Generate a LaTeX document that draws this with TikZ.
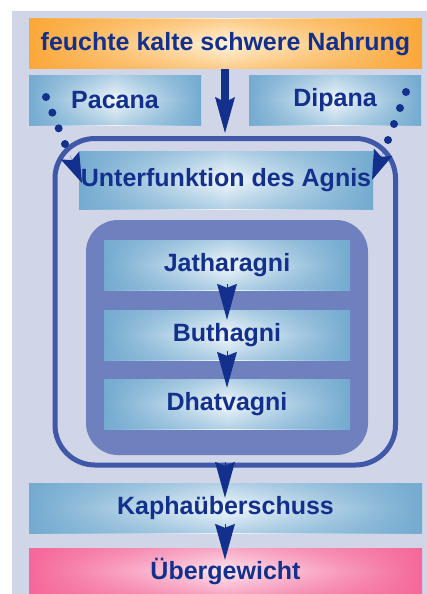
\documentclass[tikz,border=0pt]{standalone}
\usepackage{fontspec}
\setmainfont{Liberation Sans}
\usetikzlibrary{arrows.meta,fadings,calc}
\definecolor{bgc}{HTML}{D0D5E8}
\definecolor{outerc}{HTML}{3F58A8}
\definecolor{innerc}{HTML}{6E80BD}
\definecolor{boxb}{HTML}{74ABD0}
\definecolor{boxw}{HTML}{F2F8FC}
\definecolor{orng}{HTML}{FBA83A}
\definecolor{orngw}{HTML}{FFF3DC}
\definecolor{pnk}{HTML}{F5689A}
\definecolor{pnkw}{HTML}{FDE8F0}
\definecolor{txtc}{HTML}{12308C}
\tikzfading[name=vedge, top color=transparent!50, bottom color=transparent!50, middle color=transparent!100]
\begin{document}
\begin{tikzpicture}[x=1pt,y=-1pt,
  glow/.style 2 args={left color=#1, right color=#1, middle color=#2,
    path picture={\fill[#1, path fading=vedge] (path picture bounding box.south west) rectangle (path picture bounding box.north east);}},
  lbl/.style={text=txtc, font=\fontsize{25}{28}\selectfont\bfseries, inner sep=0pt, anchor=center},
  bluebox/.style={lbl, glow={boxb}{boxw}},
  orangebox/.style={lbl, glow={orng}{orngw}},
  pinkbox/.style={lbl, glow={pnk}{pnkw}},
  bigarrow/.style={draw=txtc, line width=8pt, -{Stealth[length=36pt, width=20pt, inset=5pt, line width=0pt]}},
  headonly/.style={draw=txtc, line width=0.1pt, -{Stealth[length=36pt, width=20pt, inset=4pt, line width=0pt]}},
  dothead/.style={draw=txtc, line width=0.1pt, -{Stealth[length=30pt, width=20pt, inset=5pt, line width=0pt]}},
  dotc/.style={fill=txtc}
]
\useasboundingbox (0,0) rectangle (427,594);
\fill[bgc] (12,11) rectangle (427,594);

% containers
\node[draw=outerc, line width=5pt, rounded corners=40pt, minimum width=340.5pt, minimum height=326.5pt, inner sep=0pt] (outer) at (225.25,301.75) {};
\node[fill=innerc, rounded corners=32pt, minimum width=282pt, minimum height=235pt, inner sep=0pt] (inner) at (227,337.5) {};

% boxes
\node[orangebox, minimum width=393pt, minimum height=50pt] (food) at (225.5,44) {feuchte kalte schwere Nahrung};
\node[bluebox, minimum width=172pt, minimum height=50pt] (pac) at (115,100) {Pacana};
\node[bluebox, minimum width=172pt, minimum height=50pt] (dip) at (335,100) {Dipana};
\node[bluebox, minimum width=294pt, minimum height=58pt] (unter) at (226,180) {Unterfunktion des Agnis};
\node[bluebox, minimum width=246pt, minimum height=50pt] (jath) at (227,265) {Jatharagni};
\node[bluebox, minimum width=246pt, minimum height=50pt] (buth) at (227,335) {Buthagni};
\node[bluebox, minimum width=246pt, minimum height=50pt] (dhat) at (227,404) {Dhatvagni};
\node[bluebox, minimum width=393pt, minimum height=50pt] (kapha) at (225.5,508) {Kaphaüberschuss};
\node[pinkbox, minimum width=393pt, minimum height=46pt] (ueber) at (225.5,571) {Übergewicht};

% main arrow
\coordinate (mtip) at (225,133);
\draw[bigarrow] (food.south -| mtip) -- (mtip);

% inner arrows
\draw[headonly] ($(jath.south)+(0,-6)$) -- ($(buth.north)+(0,10)$);
\draw[headonly] ($(buth.south)+(0,-9)$) -- ($(dhat.north)+(0,9)$);

% dotted arrows
\coordinate (ls) at (46,97);
\coordinate (le) at (65,144);
\coordinate (ltip) at (82,183);
\foreach \t in {0,0.3333,0.6667,1} \fill[dotc] ($(ls)!\t!(le)$) circle (4pt);
\draw[dothead] ($(ltip)!30pt!(le)$) -- (ltip);
\coordinate (rs) at (406,92);
\coordinate (re) at (388,140);
\coordinate (rtip) at (372,180);
\foreach \t in {0,0.3333,0.6667,1} \fill[dotc] ($(rs)!\t!(re)$) circle (4pt);
\draw[dothead] ($(rtip)!30pt!(re)$) -- (rtip);

% lower arrows
\draw[headonly] (225,462) -- ($(kapha.north)+(-0.5,15)$);
\draw[headonly] ($(kapha.south)+(-0.5,-9)$) -- ($(ueber.north)+(-0.5,12)$);
\end{tikzpicture}
\end{document}
